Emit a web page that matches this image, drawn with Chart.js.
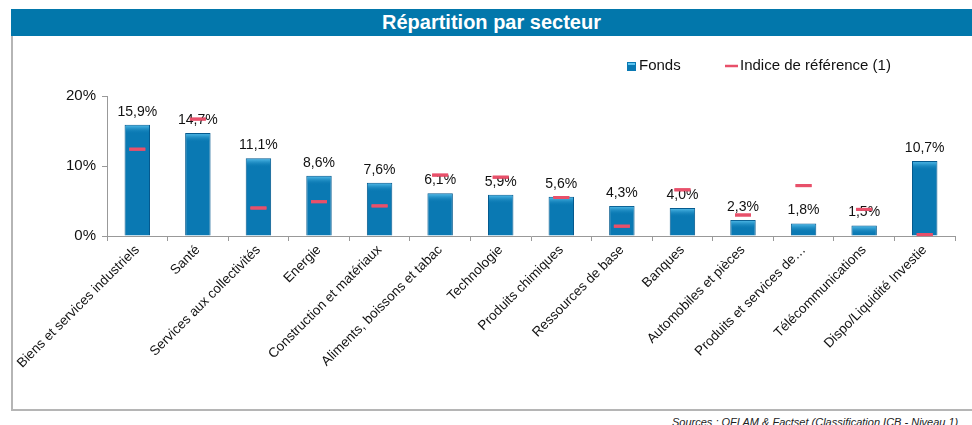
<!DOCTYPE html>
<html>
<head>
<meta charset="utf-8">
<script src="https://cdn.jsdelivr.net/npm/chart.js@4"></script>
<style>
  html, body { margin: 0; padding: 0; background: #fff; overflow: hidden; }
  body { width: 972px; height: 425px; position: relative; font-family: "Liberation Sans", Arial, sans-serif; }
  .title { position: absolute; left: 11px; top: 9px; width: 961px; height: 27px; background: #0277AB;
    color: #fff; font-weight: bold; font-size: 20px; line-height: 27px; text-align: center; }
  .frame { position: absolute; left: 11px; top: 36px; width: 970px; height: 373px;
    border-left: 2px solid #b5b5b5; border-bottom: 2px solid #b5b5b5; }
  .source { position: absolute; left: 672px; top: 416px; font-size: 11px; font-style: italic; color: #222; white-space: nowrap; }
  #chart { position: absolute; left: 0; top: 0; }
</style>
</head>
<body>
<div class="title">Répartition par secteur</div>
<div class="frame"></div>
<div class="source">Sources : OFI AM &amp; Factset (Classification ICB - Niveau 1)</div>
<canvas id="chart" width="972" height="425"></canvas>
<script>
const sectors = [
  'Biens et services industriels', 'Santé', 'Services aux collectivités', 'Energie',
  'Construction et matériaux', 'Aliments, boissons et tabac', 'Technologie', 'Produits chimiques',
  'Ressources de base', 'Banques', 'Automobiles et pièces', 'Produits et services de…',
  'Télécommunications', 'Dispo/Liquidité Investie'
];
const fonds = [15.9, 14.7, 11.1, 8.6, 7.6, 6.1, 5.9, 5.6, 4.3, 4.0, 2.3, 1.8, 1.5, 10.7];
const indice = [12.4, 16.7, 4.0, 4.9, 4.3, 8.7, 8.4, 5.5, 1.4, 6.6, 3.0, 7.2, 3.8, 0.2];
const yTicks = [0, 10, 20];

const font = "'Liberation Sans', Arial, sans-serif";
const blue = '#0A79B3';
const red = '#E8506A';

// value labels above the bars, plus a lighter top cap on each bar
const barDecor = {
  id: 'barDecor',
  afterDatasetsDraw(chart) {
    const ctx = chart.ctx;
    const meta = chart.getDatasetMeta(1);
    ctx.save();
    meta.data.forEach((bar, i) => {
      const w = bar.width;
      const g = ctx.createLinearGradient(0, bar.y, 0, bar.y + 9);
      g.addColorStop(0, '#5CC4F0');
      g.addColorStop(1, 'rgba(10,121,179,0)');
      ctx.fillStyle = g;
      ctx.fillRect(bar.x - w / 2 + 1, bar.y + 1, w - 2, 9);
      ctx.fillStyle = '#111';
      ctx.font = '14px ' + font;
      ctx.textAlign = 'center';
      ctx.textBaseline = 'bottom';
      ctx.fillText(fonds[i].toFixed(1).replace('.', ',') + '%', bar.x, bar.y - 6);
    });
    // redraw index dashes above the caps
    chart.getDatasetMeta(0).data.forEach((p) => {
      ctx.strokeStyle = red;
      ctx.lineWidth = 3;
      ctx.beginPath();
      ctx.moveTo(p.x - 8, p.y);
      ctx.lineTo(p.x + 8, p.y);
      ctx.stroke();
    });
    ctx.restore();
  }
};

// legend drawn by hand at the top right
const legendDraw = {
  id: 'legendDraw',
  afterDraw(chart) {
    const ctx = chart.ctx;
    ctx.save();
    ctx.font = '15px ' + font;
    ctx.textBaseline = 'middle';
    ctx.fillStyle = blue;
    ctx.fillRect(627, 62, 9, 9);
    ctx.fillStyle = '#5CC4F0';
    ctx.fillRect(628, 63, 7, 2);
    ctx.fillStyle = '#111';
    ctx.fillText('Fonds', 639, 66);
    ctx.strokeStyle = red;
    ctx.lineWidth = 2.5;
    ctx.beginPath();
    ctx.moveTo(725, 66);
    ctx.lineTo(738, 66);
    ctx.stroke();
    ctx.fillText('Indice de référence (1)', 740, 66);
    ctx.restore();
  }
};

new Chart(document.getElementById('chart'), {
  data: {
    labels: sectors,
    datasets: [
      {
        type: 'line',
        label: 'Indice de référence (1)',
        data: indice,
        showLine: false,
        pointStyle: 'line',
        pointRadius: 8,
        pointHoverRadius: 8,
        pointBorderWidth: 3,
        pointBorderColor: red,
        borderColor: red,
        order: 0
      },
      {
        type: 'bar',
        label: 'Fonds',
        data: fonds,
        backgroundColor: (c) => {
          const el = c.element;
          if (!el || !el.width) return blue;
          const g = c.chart.ctx.createLinearGradient(el.x - el.width / 2, 0, el.x + el.width / 2, 0);
          g.addColorStop(0, '#06609A');
          g.addColorStop(0.2, '#0A7CB8');
          g.addColorStop(0.8, '#0A7CB8');
          g.addColorStop(1, '#06609A');
          return g;
        },
        borderColor: '#055A8E',
        borderWidth: 1,
        barPercentage: 0.42,
        categoryPercentage: 1,
        order: 1
      }
    ]
  },
  options: {
    responsive: false,
    animation: false,
    devicePixelRatio: 1,
    layout: { padding: { top: 96, left: 0, right: 17, bottom: 0 } },
    plugins: { legend: { display: false }, tooltip: { enabled: false } },
    scales: {
      x: {
        offset: true,
        grid: { display: true, drawOnChartArea: false, offset: true, tickLength: 5, color: '#999' },
        border: { color: '#999' },
        ticks: { color: '#111', font: { family: font, size: 13.5 }, minRotation: 45, maxRotation: 45, autoSkip: false, padding: 1 },
        afterFit: (s) => { s.height = 189; }
      },
      y: {
        min: 0,
        max: 20,
        afterBuildTicks: (s) => { s.ticks = yTicks.map(v => ({ value: v })); },
        grid: { display: true, drawOnChartArea: false, tickLength: 5, color: '#999' },
        border: { color: '#999' },
        ticks: { color: '#111', font: { family: font, size: 15 }, padding: 6, callback: (v) => v + '%' },
        afterFit: (s) => { s.width = 107; }
      }
    }
  },
  plugins: [barDecor, legendDraw]
});
</script>
</body>
</html>
